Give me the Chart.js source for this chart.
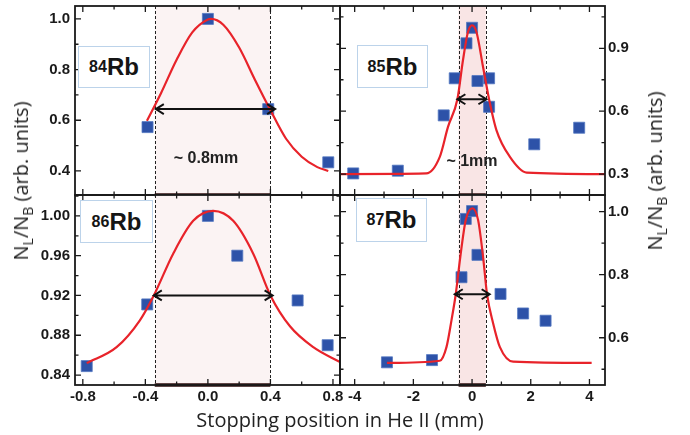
<!DOCTYPE html>
<html>
<head>
<meta charset="utf-8">
<script src="https://cdn.jsdelivr.net/npm/chart.js@4.4.1/dist/chart.umd.min.js"></script>
<style>
  body { margin: 0; background: #fff; }
  #wrap { position: relative; width: 690px; height: 435px; overflow: hidden; font-family: "Liberation Sans", Arial, sans-serif; }
  canvas { position: absolute; }
  .tag { position: absolute; box-sizing: border-box; border: 1px solid #bcd3ea; background: #fff;
         display: flex; align-items: center; justify-content: center; font-weight: bold; font-size: 24px; color: #151515; }
  .tag sup { font-size: 16px; vertical-align: 10px; line-height: 0; }
  .note { position: absolute; transform: translate(-50%, -50%); font-weight: bold; font-size: 16px; color: #222; white-space: nowrap; }
  .ttl { position: absolute; font-family: "Open Sans", sans-serif; font-size: 20px; line-height: 1; color: #222; white-space: nowrap; }
  .rot { transform: translate(-50%, -50%) rotate(-90deg); }
  .ttl sub { font-size: 14px; line-height: 0; }
</style>
</head>
<body>
<div id="wrap">
  <canvas id="c84" width="343" height="197" style="left:0;top:0"></canvas>
  <canvas id="c85" width="352" height="197" style="left:338px;top:0"></canvas>
  <canvas id="c86" width="350" height="242" style="left:0;top:193px"></canvas>
  <canvas id="c87" width="352" height="242" style="left:338px;top:193px"></canvas>

  <div class="tag" style="left:78px;top:46px;width:72px;height:42px"><sup>84</sup>Rb</div>
  <div class="tag" style="left:357px;top:45px;width:71px;height:43px"><sup>85</sup>Rb</div>
  <div class="tag" style="left:80px;top:200px;width:73px;height:43px"><sup>86</sup>Rb</div>
  <div class="tag" style="left:356px;top:198px;width:71px;height:44px"><sup>87</sup>Rb</div>

  <div class="note" style="left:206px;top:158px">~ 0.8mm</div>
  <div class="note" style="left:472px;top:161px">~ 1mm</div>

  <div class="ttl rot" style="left:21px;top:181px">N<sub>L</sub>/N<sub>B</sub> (arb. units)</div>
  <div class="ttl rot" style="left:655px;top:171px">N<sub>L</sub>/N<sub>B</sub> (arb. units)</div>
  <div class="ttl" style="left:340px;top:420px;transform:translate(-50%,-50%)">Stopping position in He II (mm)</div>
</div>

<script>
// tick labels
const xTicksNarrow = [-0.8, -0.4, 0, 0.4, 0.8];
const xTicksWide = [-4, -2, 0, 2, 4];

// 84Rb (haut gauche)
const x84 = [-0.386, 0.0, 0.386, 0.77];
const y84 = [0.573, 1.0, 0.644, 0.434];
const fitX84 = [-0.39, -0.30, -0.20, -0.10, 0.0, 0.02, 0.10, 0.20, 0.30, 0.40, 0.50, 0.60, 0.70, 0.77];
const fitY84 = [0.598, 0.707, 0.839, 0.947, 0.998, 1.0, 0.976, 0.887, 0.761, 0.64, 0.527, 0.456, 0.415, 0.40];
const yTicks84 = [0.4, 0.6, 0.8, 1.0];
const win84 = [-0.34, 0.40];
const span84 = [-0.333, 0.43, 0.644];

// 85Rb (haut droite)
const x85 = [-4.05, -2.53, -0.966, -0.59, -0.19, 0.0, 0.184, 0.58, 0.58, 2.12, 3.65];
const y85 = [0.303, 0.316, 0.58, 0.757, 0.924, 0.998, 0.744, 0.757, 0.621, 0.442, 0.521];
const fitX85 = [-4.5, -1.56, -1.10, -0.82, -0.50, -0.31, -0.14, 0.0, 0.15, 0.375, 0.58, 0.83, 1.29, 1.86, 4.53];
const fitY85 = [0.30, 0.303, 0.382, 0.525, 0.657, 0.843, 0.978, 1.01, 0.978, 0.811, 0.657, 0.51, 0.382, 0.307, 0.30];
const yTicks85 = [0.3, 0.6, 0.9];
const win85 = [-0.46, 0.47];
const span85 = [-0.50, 0.49, 0.657];

// 86Rb (bas gauche)
const x86 = [-0.775, -0.388, 0.0, 0.188, 0.574, 0.766];
const y86 = [0.849, 0.911, 1.0, 0.960, 0.915, 0.870];
const fitX86 = [-0.775, -0.584, -0.435, -0.346, -0.222, -0.094, 0.034, 0.162, 0.29, 0.40, 0.525, 0.674, 0.845];
const fitY86 = [0.852, 0.868, 0.895, 0.920, 0.962, 0.995, 1.005, 0.995, 0.962, 0.920, 0.889, 0.868, 0.853];
const yTicks86 = [0.84, 0.88, 0.92, 0.96, 1.00];
const win86 = [-0.34, 0.40];
const span86 = [-0.346, 0.414, 0.92];

// 87Rb (bas droite)
const x87 = [-2.90, -1.365, -0.36, -0.215, 0.0, 0.184, 0.97, 1.74, 2.505];
const y87 = [0.522, 0.529, 0.792, 0.977, 1.002, 0.863, 0.739, 0.677, 0.654];
const fitX87 = [-2.90, -1.10, -0.87, -0.70, -0.556, -0.40, -0.215, 0.014, 0.205, 0.375, 0.51, 0.717, 0.945, 1.40, 4.075];
const fitY87 = [0.52, 0.527, 0.571, 0.656, 0.738, 0.857, 0.974, 1.011, 0.974, 0.857, 0.738, 0.646, 0.571, 0.524, 0.52];
const yTicks87 = [0.6, 0.8, 1.0];
const win87 = [-0.46, 0.47];
const span87 = [-0.59, 0.60, 0.738];

function pairs(xs, ys) {
  return xs.map((v, i) => ({ x: v, y: ys[i] }));
}

// graduations mineures au milieu des majeures
function minors(major, min, max) {
  const step = major[1] - major[0];
  const out = [];
  for (let v = major[0] - step / 2; v <= max + 1e-9; v += step) {
    if (v >= min - 1e-9) out.push(v);
  }
  return out;
}

const decor = {
  id: "decor",
  beforeDatasetsDraw(chart, args, o) {
    const { ctx, chartArea: a, scales: { x } } = chart;
    const x1 = x.getPixelForValue(o.win[0]);
    const x2 = x.getPixelForValue(o.win[1]);
    ctx.save();
    ctx.fillStyle = o.shade;
    ctx.fillRect(x1, a.top, x2 - x1, a.bottom - a.top);
    ctx.strokeStyle = "#222";
    ctx.lineWidth = 1;
    ctx.setLineDash([3, 2]);
    [x1, x2].forEach((px) => {
      ctx.beginPath();
      ctx.moveTo(Math.round(px) + 0.5, a.top);
      ctx.lineTo(Math.round(px) + 0.5, a.bottom);
      ctx.stroke();
    });
    ctx.restore();
  },
  afterDatasetsDraw(chart, args, o) {
    const { ctx, chartArea: a, scales: { x, y } } = chart;
    ctx.save();
    // flèche double
    const ax1 = x.getPixelForValue(o.span[0]);
    const ax2 = x.getPixelForValue(o.span[1]);
    const ay = y.getPixelForValue(o.span[2]);
    ctx.strokeStyle = "#111";
    ctx.lineWidth = 2;
    ctx.beginPath();
    ctx.moveTo(ax1, ay); ctx.lineTo(ax2, ay);
    ctx.moveTo(ax1 + 8, ay - 5); ctx.lineTo(ax1, ay); ctx.lineTo(ax1 + 8, ay + 5);
    ctx.moveTo(ax2 - 8, ay - 5); ctx.lineTo(ax2, ay); ctx.lineTo(ax2 - 8, ay + 5);
    ctx.stroke();

    // trait épais en bas de la fenêtre
    const w1 = x.getPixelForValue(o.win[0]);
    const w2 = x.getPixelForValue(o.win[1]);
    ctx.strokeStyle = "#2b0d0d";
    ctx.lineWidth = 3.5;
    ctx.beginPath();
    ctx.moveTo(w1, a.bottom); ctx.lineTo(w2, a.bottom);
    ctx.stroke();

    // cadre
    ctx.strokeStyle = "#1a1a1a";
    ctx.lineWidth = 1.8;
    ctx.strokeRect(a.left, a.top, a.right - a.left, a.bottom - a.top);

    // graduations vers l'intérieur
    ctx.lineWidth = 1.3;
    ctx.beginPath();
    const tx = (vals, len) => vals.forEach((v) => {
      const px = x.getPixelForValue(v);
      ctx.moveTo(px, a.top); ctx.lineTo(px, a.top + len);
      ctx.moveTo(px, a.bottom); ctx.lineTo(px, a.bottom - len);
    });
    const ty = (vals, len) => vals.forEach((v) => {
      const py = y.getPixelForValue(v);
      ctx.moveTo(a.left, py); ctx.lineTo(a.left + len, py);
      ctx.moveTo(a.right, py); ctx.lineTo(a.right - len, py);
    });
    tx(o.xt, 6);
    tx(minors(o.xt, x.min, x.max), 3.5);
    ty(o.yt, 6);
    ty(minors(o.yt, y.min, y.max), 3.5);
    ctx.stroke();
    ctx.restore();
  },
};

const tickFont = { family: "'Liberation Sans', Arial, sans-serif", size: 15, weight: "bold" };

function panel(id, o) {
  return new Chart(document.getElementById(id), {
    type: "scatter",
    data: {
      datasets: [
        {
          data: pairs(o.fitX, o.fitY),
          showLine: true,
          borderColor: "#e8232a",
          borderWidth: 2.2,
          pointRadius: 0,
          cubicInterpolationMode: "monotone",
          order: 1,
        },
        {
          data: pairs(o.px, o.py),
          pointStyle: "rect",
          pointRadius: 7.8,
          backgroundColor: "#2d52a8",
          borderColor: "#5479c2",
          borderWidth: 0.8,
          order: 2,
        },
      ],
    },
    options: {
      responsive: false,
      animation: false,
      devicePixelRatio: 1,
      layout: { padding: o.pad, autoPadding: false },
      plugins: {
        legend: { display: false },
        tooltip: { enabled: false },
        decor: { win: o.win, span: o.span, shade: o.shade, xt: o.xt, yt: o.yt },
      },
      scales: {
        x: {
          type: "linear",
          min: o.xr[0],
          max: o.xr[1],
          display: o.showX,
          grid: { display: false, drawTicks: false },
          border: { display: false },
          ticks: {
            font: tickFont,
            color: "#1a1a1a",
            padding: 3,
            autoSkip: false,
            maxRotation: 0,
            callback: (v) => o.xfmt(v),
          },
          afterBuildTicks: (s) => { s.ticks = o.xt.map((v) => ({ value: v })); },
          afterFit: (s) => {
            s.height = o.showX ? 50 : 0;
            s.paddingLeft = 0;
            s.paddingRight = 0;
          },
        },
        y: {
          type: "linear",
          position: o.side,
          min: o.yr[0],
          max: o.yr[1],
          grid: { display: false, drawTicks: false },
          border: { display: false },
          ticks: {
            font: tickFont,
            color: "#1a1a1a",
            padding: o.side === "left" ? 5 : 3,
            autoSkip: false,
            callback: (v) => v.toFixed(o.ydec),
          },
          afterBuildTicks: (s) => { s.ticks = o.yt.map((v) => ({ value: v })); },
          afterFit: (s) => {
            s.width = o.side === "left" ? 75 : 85;
            s.paddingTop = 0;
            s.paddingBottom = 0;
          },
        },
      },
    },
    plugins: [decor],
  });
}

const fmtNarrow = (v) => v.toFixed(1);
const fmtWide = (v) => String(v);

panel("c84", {
  px: x84, py: y84, fitX: fitX84, fitY: fitY84, xt: xTicksNarrow, yt: yTicks84,
  win: win84, span: span84, shade: "#fbf3f3", xr: [-0.85, 0.845], yr: [0.305, 1.051],
  side: "left", showX: false, ydec: 1, xfmt: fmtNarrow,
  pad: { left: 0, top: 6, right: 3, bottom: 2 },
});
panel("c85", {
  px: x85, py: y85, fitX: fitX85, fitY: fitY85, xt: xTicksWide, yt: yTicks85,
  win: win85, span: span85, shade: "#f9e5e5", xr: [-4.5, 4.53], yr: [0.2, 1.102],
  side: "right", showX: false, ydec: 1, xfmt: fmtWide,
  pad: { left: 2, top: 6, right: 0, bottom: 2 },
});
panel("c86", {
  px: x86, py: y86, fitX: fitX86, fitY: fitY86, xt: xTicksNarrow, yt: yTicks86,
  win: win86, span: span86, shade: "#fbf3f3", xr: [-0.85, 0.845], yr: [0.83, 1.021],
  side: "left", showX: true, ydec: 2, xfmt: fmtNarrow,
  pad: { left: 0, top: 2, right: 10, bottom: 0 },
});
panel("c87", {
  px: x87, py: y87, fitX: fitX87, fitY: fitY87, xt: xTicksWide, yt: yTicks87,
  win: win87, span: span87, shade: "#f9e5e5", xr: [-4.5, 4.53], yr: [0.45, 1.053],
  side: "right", showX: true, ydec: 1, xfmt: fmtWide,
  pad: { left: 2, top: 2, right: 0, bottom: 0 },
});
</script>
</body>
</html>
